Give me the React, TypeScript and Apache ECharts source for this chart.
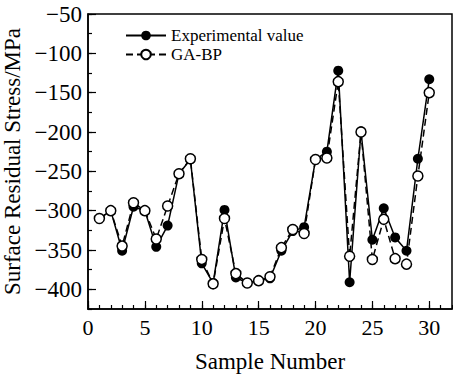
import React, { useEffect, useRef } from "react";
import * as echarts from "echarts";

const samples = Array.from({ length: 30 }, (_, i) => i + 1);
const experimental = [-310, -300, -351, -295, -300, -346, -319, -253, -235, -367, -392, -299, -385, -392, -389, -386, -351, -326, -321, -235, -225, -122, -391, -199, -337, -297, -334, -351, -234, -133];
const gaBp = [-310, -300, -345, -290, -300, -336, -294, -253, -234, -362, -393, -310, -380, -392, -389, -384, -347, -324, -329, -235, -233, -136, -358, -200, -362, -311, -361, -368, -256, -150];
const yMajor = [-400, -350, -300, -250, -200, -150, -100, -50];
const xMajor = [0, 5, 10, 15, 20, 25, 30];

const FONT = "'Liberation Serif', 'Times New Roman', serif";
const fmt = (v: number) => (v < 0 ? "\u2212" + Math.abs(v) : String(v));

export default function App() {
  const ref = useRef<HTMLDivElement>(null);
  useEffect(() => {
    const chart = echarts.init(ref.current!, null, { renderer: "svg" });
    const axisBase = { lineStyle: { color: "#000", width: 1.5 } };
    chart.setOption({
      animation: false,
      backgroundColor: "#fff",
      textStyle: { fontFamily: FONT },
      grid: { left: 88, right: 1, top: 14, bottom: 69, show: true, borderColor: "#000", borderWidth: 1.5, containLabel: false, outerBoundsMode: "none" },
      legend: {
        orient: "vertical",
        left: 120,
        top: 22,
        itemWidth: 40,
        itemHeight: 12,
        itemGap: 2,
        textStyle: { fontFamily: FONT, fontSize: 17, color: "#000" },
        data: ["Experimental value", "GA-BP"],
      },
      xAxis: [
        {
          type: "value", min: 0, max: 32, interval: 1,
          name: "Sample Number", nameLocation: "middle", nameGap: 41,
          nameTextStyle: { fontFamily: FONT, fontSize: 23, color: "#000" },
          axisLine: axisBase,
          axisTick: { inside: true, length: 4, lineStyle: { color: "#000", width: 1.2 } },
          axisLabel: { fontFamily: FONT, fontSize: 22, color: "#000", interval: 0, hideOverlap: false, formatter: (v: number) => (v % 5 === 0 && v <= 30 ? fmt(v) : ""), margin: 7 },
          splitLine: { show: false },
        },
        {
          type: "value", min: 0, max: 32, interval: 1, position: "bottom",
          axisLine: { show: false },
          axisTick: { inside: true, length: 8, customValues: xMajor, lineStyle: { color: "#000", width: 1.2 } },
          axisLabel: { show: false },
          splitLine: { show: false },
        },
      ],
      yAxis: [
        {
          type: "value", min: -425, max: -50, interval: 25,
          name: "Surface Residual Stress/MPa", nameLocation: "middle", nameGap: 58, nameRotate: 90,
          nameTextStyle: { fontFamily: FONT, fontSize: 23, color: "#000" },
          axisLine: axisBase,
          axisTick: { inside: true, length: 4, lineStyle: { color: "#000", width: 1.2 } },
          axisLabel: { fontFamily: FONT, fontSize: 23, color: "#000", interval: 0, hideOverlap: false, formatter: (v: number) => (v % 50 === 0 ? fmt(v) : ""), margin: 6 },
          splitLine: { show: false },
        },
        {
          type: "value", min: -425, max: -50, interval: 25, position: "left",
          axisLine: { show: false },
          axisTick: { inside: true, length: 8, customValues: yMajor, lineStyle: { color: "#000", width: 1.2 } },
          axisLabel: { show: false },
          splitLine: { show: false },
        },
      ],
      series: [
        {
          name: "Experimental value",
          type: "line",
          data: samples.map((s, i) => [s, experimental[i]]),
          symbol: "circle",
          symbolSize: 10,
          itemStyle: { color: "#000" },
          lineStyle: { color: "#000", width: 1.5 },
        },
        {
          name: "GA-BP",
          type: "line",
          data: samples.map((s, i) => [s, gaBp[i]]),
          symbol: "circle",
          symbolSize: 10,
          itemStyle: { color: "#fff", borderColor: "#000", borderWidth: 1.5 },
          lineStyle: { color: "#000", width: 1.5, type: [7, 4] },
        },
      ],
    });
    return () => chart.dispose();
  }, []);
  return <div ref={ref} style={{ width: 453, height: 378, position: "absolute", left: 0, top: 0 }} />;
}
